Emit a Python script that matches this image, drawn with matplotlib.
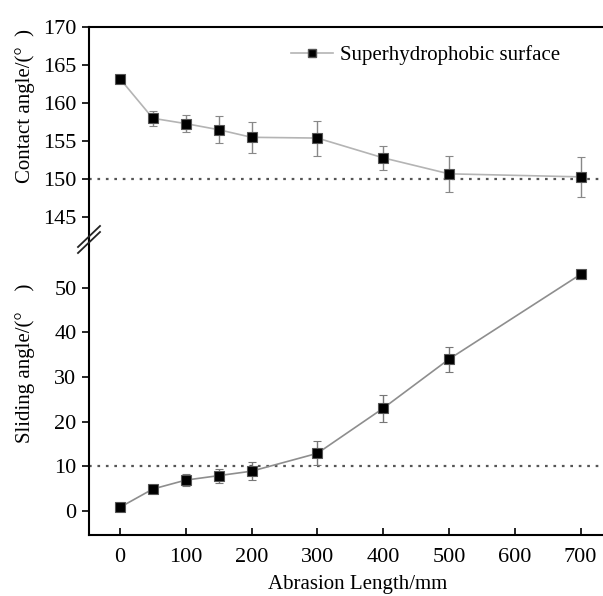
import matplotlib
matplotlib.use("Agg")
import matplotlib.pyplot as plt
from matplotlib.lines import Line2D

# Data
length = [0, 50, 100, 150, 200, 300, 400, 500, 700]
contact = [163.2, 158.0, 157.3, 156.5, 155.5, 155.4, 152.8, 150.7, 150.3]
contact_err = [0.4, 1.0, 1.1, 1.8, 2.0, 2.3, 1.6, 2.4, 2.6]
sliding = [0.8, 4.9, 6.9, 7.9, 8.9, 12.9, 23.0, 34.0, 53.0]
sliding_err = [0.5, 1.0, 1.3, 1.6, 2.0, 2.7, 3.0, 2.8, 1.0]
x_ticks = [0, 100, 200, 300, 400, 500, 600, 700]
contact_ticks = [145, 150, 155, 160, 165, 170]
sliding_ticks = [0, 10, 20, 30, 40, 50]

plt.rcParams['font.family'] = ['Liberation Serif', 'DejaVu Serif']
TFS = 16
LFS = 15

W, H = 603, 596
fig = plt.figure(figsize=(W / 100, H / 100), dpi=100)

def fx(px):
    return px / W

def fy(py):
    return 1 - py / H

left, right = fx(89), 1.0
y_top, y_break, y_bot = fy(27), fy(240), fy(535)

ax1 = fig.add_axes([left, y_break, right - left, y_top - y_break])
ax2 = fig.add_axes([left, y_bot, right - left, y_break - y_bot], sharex=ax1)

top_col = '#b4b4b4'
bot_col = '#8e8e8e'

ax1.errorbar(length, contact, yerr=contact_err, color=top_col, lw=1.2,
             marker='s', ms=6.5, mfc='black', mec='#555555', mew=0.8,
             ecolor='#888888', elinewidth=1, capsize=3, capthick=1, zorder=3)
ax2.errorbar(length, sliding, yerr=sliding_err, color=bot_col, lw=1.2,
             marker='s', ms=6.5, mfc='black', mec='#555555', mew=0.8,
             ecolor='#777777', elinewidth=1, capsize=3, capthick=1, zorder=3)

ax1.axhline(150, color='#555555', ls=(0, (1.2, 2.6)), lw=1.6, zorder=1)
ax2.axhline(10, color='#555555', ls=(0, (1.2, 2.6)), lw=1.6, zorder=1)

ax1.set_xlim(-47, 734)
ax1.set_ylim(142.0, 170)
ax2.set_ylim(-5.4, 60.7)

ax1.set_yticks(contact_ticks)
ax2.set_yticks(sliding_ticks)
ax2.set_xticks(x_ticks)

for ax in (ax1, ax2):
    ax.spines['right'].set_visible(False)
    ax.spines['left'].set_linewidth(1.5)
    ax.spines['top'].set_linewidth(1.5)
    ax.spines['bottom'].set_linewidth(1.5)
    ax.tick_params(axis='y', direction='out', length=5, width=1.2, labelsize=TFS, pad=4)
    ax.tick_params(axis='x', direction='in', length=5, width=1.2, labelsize=TFS, pad=9)
    ax.patch.set_alpha(0)

ax1.spines['bottom'].set_visible(False)
ax2.spines['top'].set_visible(False)
ax1.tick_params(axis='x', which='both', bottom=False, labelbottom=False)

# break marks
for dy in (-3, 3):
    fig.add_artist(Line2D([fx(78), fx(100)], [fy(250 + dy), fy(229 + dy)],
                          transform=fig.transFigure, color='#222222', lw=1.3))

# labels
fig.text(fx(25), fy(106), 'Contact angle/(°\u2002)', rotation=90,
         ha='center', va='center', fontsize=LFS)
fig.text(fx(25), fy(363), 'Sliding angle/(°\u2003)', rotation=90,
         ha='center', va='center', fontsize=LFS)
fig.text(fx(358), fy(584), 'Abrasion Length/mm', ha='center', va='center', fontsize=LFS)

# legend
h = Line2D([], [], color=top_col, lw=1.2, marker='s', ms=6, mfc='black', mec='#555555')
ax1.legend([h], ['Superhydrophobic surface'], loc='center left',
           bbox_to_anchor=(fx(291), fy(55)), bbox_transform=fig.transFigure,
           frameon=False, fontsize=LFS, handlelength=2.0, handletextpad=0.35,
           borderaxespad=0, borderpad=0)

fig.savefig('out.png', dpi=100, facecolor='white')
